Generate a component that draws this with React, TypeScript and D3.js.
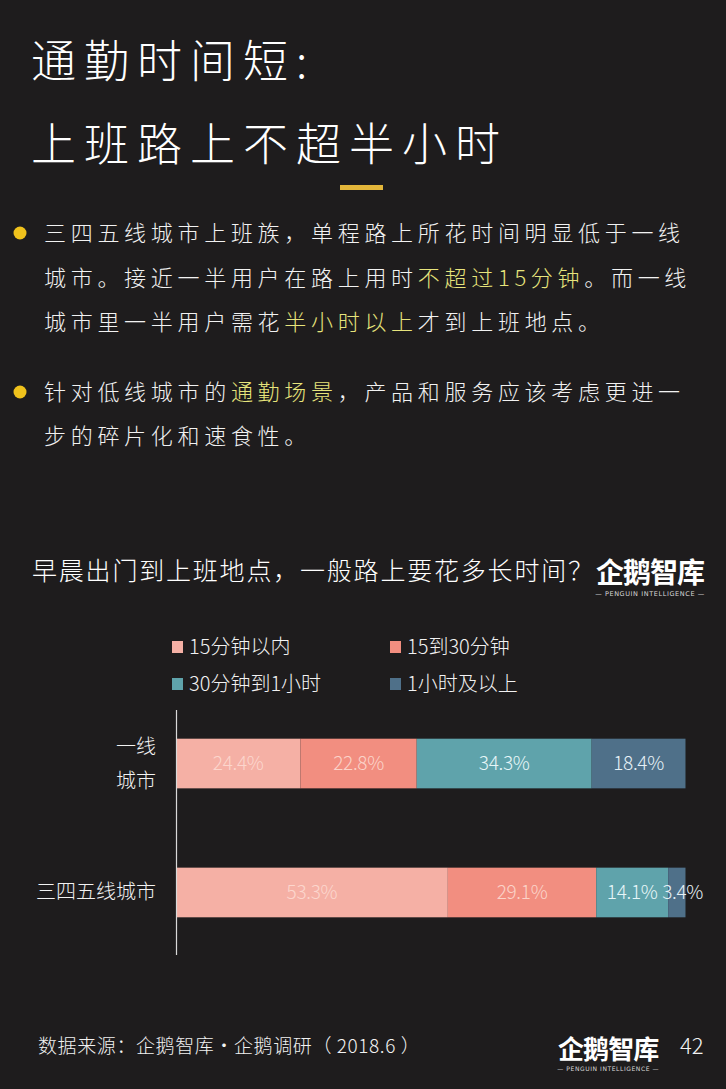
import React, { useEffect, useRef } from "react";
import * as d3 from "d3";

// data
const categories = ["一线城市", "三四五线城市"];
const categoryLines = [["一线", "城市"], ["三四五线城市"]];
const seriesNames = ["15分钟以内", "15到30分钟", "30分钟到1小时", "1小时及以上"];
const tier1Values = [24.4, 22.8, 34.3, 18.4];
const tier345Values = [53.3, 29.1, 14.1, 3.4];

const colors = ["#f5b0a5", "#f28e80", "#5fa3ab", "#4f7089"];
const labelColors = ["#fcd6cd", "#fbd3c9", "#e6f6f8", "#e6f0f6"];

const W = 726;
const H = 1089;

const cjk = "'Noto Sans CJK SC', 'Noto Sans', sans-serif";

const Logo = ({ x, y, scale = 1 }: { x: number; y: number; scale?: number }) => (
  <g transform={`translate(${x},${y}) scale(${scale})`}>
    <text x={0} y={0} fill="#ffffff" fontSize={28} fontWeight={700} fontFamily={cjk} letterSpacing={-1}>
      企鹅智库
    </text>
    <text x={54} y={13} fill="#d8d8d8" fontSize={6.5} fontFamily="'DejaVu Sans', sans-serif" textAnchor="middle" letterSpacing={0.6}>
      — PENGUIN  INTELLIGENCE —
    </text>
  </g>
);

const App = () => {
  const chartRef = useRef<SVGGElement>(null);

  useEffect(() => {
    document.body.style.margin = "0";
    const rows = [tier1Values, tier345Values];
    const stackData = categories.map((c, i) => {
      const row: any = { cat: c };
      seriesNames.forEach((s, j) => (row[s] = rows[i][j]));
      return row;
    });
    const stacked = d3.stack().keys(seriesNames)(stackData);

    const x = d3.scaleLinear().domain([0, 100]).range([176, 686]);
    const y = d3
      .scaleBand()
      .domain(categories)
      .range([700, 956])
      .paddingInner(0.615)
      .paddingOuter(0.3);

    const g = d3.select(chartRef.current);
    g.selectAll("*").remove();

    stacked.forEach((layer, j) => {
      const lg = g.append("g");
      lg.selectAll("rect")
        .data(layer)
        .enter()
        .append("rect")
        .attr("x", (d) => x(d[0]))
        .attr("y", (d: any) => y(d.data.cat)!)
        .attr("width", (d) => x(d[1]) - x(d[0]))
        .attr("height", y.bandwidth())
        .attr("fill", colors[j]);

      lg.selectAll("text")
        .data(layer)
        .enter()
        .append("text")
        .attr("x", (d) => (d[1] - d[0] < 5 ? x(d[0]) - 6 : (x(d[0]) + x(d[1])) / 2))
        .attr("y", (d: any) => y(d.data.cat)! + y.bandwidth() / 2)
        .attr("dy", "0.35em")
        .attr("text-anchor", (d) => (d[1] - d[0] < 5 ? "start" : "middle"))
        .attr("fill", labelColors[j])
        .attr("font-size", 19)
        .attr("font-weight", 300)
        .attr("font-family", cjk)
        .attr("letter-spacing", -0.3)
        .text((d) => `${(d[1] - d[0]).toFixed(1)}%`);
    });

    // category labels
    categories.forEach((c, i) => {
      const lines = categoryLines[i];
      const cy = y(c)! + y.bandwidth() / 2;
      const lh = 34;
      lines.forEach((ln, k) => {
        g.append("text")
          .attr("x", 156)
          .attr("y", cy + (k - (lines.length - 1) / 2) * lh)
          .attr("dy", "0.35em")
          .attr("text-anchor", "end")
          .attr("fill", "#f2f2f2")
          .attr("font-size", 20)
          .attr("font-weight", 300)
          .attr("font-family", cjk)
          .text(ln);
      });
    });

    // axis line
    g.append("line")
      .attr("x1", 176.5)
      .attr("x2", 176.5)
      .attr("y1", 710)
      .attr("y2", 955)
      .attr("stroke", "#d9d9d9")
      .attr("stroke-width", 1.2);
  }, []);

  const legendPos = [
    [172, 647],
    [390, 647],
    [172, 684],
    [390, 684],
  ];

  return (
    <svg width={W} height={H} style={{ position: "absolute", left: 0, top: 0, display: "block" }}>
      <rect width={W} height={H} fill="#1e1c1d" />

      {/* headline */}
      <g fill="#ffffff" fontFamily={cjk} fontSize={45} fontWeight={300} letterSpacing={8}>
        <text x={31} y={78}>通勤时间短:</text>
        <text x={31} y={161}>上班路上不超半小时</text>
      </g>
      <rect x={340} y={185} width={43} height={5} fill="#e3b63a" />

      {/* bullets */}
      <g fontFamily={cjk} fontSize={22} fontWeight={300} fill="#f2f2f2" letterSpacing={4.7}>
        <circle cx={20} cy={233} r={6.5} fill="#f0c21c" />
        <text x={44} y={241}>三四五线城市上班族，单程路上所花时间明显低于一线</text>
        <text x={44} y={286}>
          城市。接近一半用户在路上用时<tspan fill="#e7e47c">不超过15分钟</tspan>。而一线
        </text>
        <text x={44} y={330}>
          城市里一半用户需花<tspan fill="#e7e47c">半小时以上</tspan>才到上班地点。
        </text>
        <circle cx={20} cy={392} r={6.5} fill="#f0c21c" />
        <text x={44} y={400}>
          针对低线城市的<tspan fill="#e7e47c">通勤场景</tspan>，产品和服务应该考虑更进一
        </text>
        <text x={44} y={444}>步的碎片化和速食性。</text>
      </g>

      {/* chart title */}
      <text x={32} y={580} fill="#ffffff" fontFamily={cjk} fontSize={25} fontWeight={300} letterSpacing={1.8}>
        早晨出门到上班地点，一般路上要花多长时间？
      </text>
      <Logo x={596} y={583} />

      {/* legend */}
      <g fontFamily={cjk} fontSize={20} fontWeight={300} fill="#f2f2f2">
        {seriesNames.map((s, i) => (
          <g key={s} transform={`translate(${legendPos[i][0]},${legendPos[i][1]})`}>
            <rect x={0} y={-6} width={11} height={12} fill={colors[i]} />
            <text x={17} y={0} dy="0.35em">{s}</text>
          </g>
        ))}
      </g>

      <g ref={chartRef} />

      {/* footer */}
      <text x={38} y={1053} fill="#f2f2f2" fontFamily={cjk} fontSize={19} fontWeight={300} letterSpacing={0.6}>
        数据来源：企鹅智库·企鹅调研（ 2018.6 ）
      </text>
      <Logo x={558} y={1059} scale={0.93} />
      <text x={680} y={1054} fill="#f2f2f2" fontFamily={cjk} fontSize={22} fontWeight={300}>
        42
      </text>
    </svg>
  );
};

export default App;
